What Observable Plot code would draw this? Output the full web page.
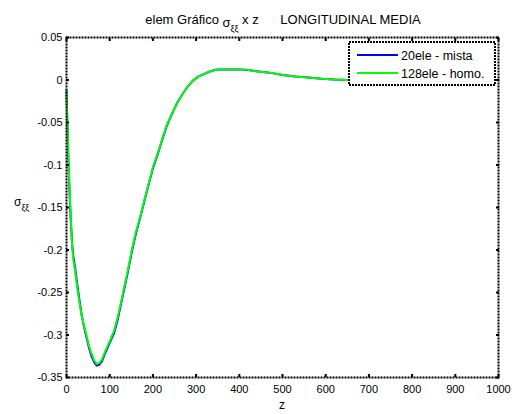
<!DOCTYPE html>
<html><head><meta charset="utf-8">
<script src="https://cdn.jsdelivr.net/npm/d3@7"></script>
<script src="https://cdn.jsdelivr.net/npm/@observablehq/plot@0.6"></script>
<style>
body{margin:0;background:#fff}
svg{font-family:"Liberation Sans",Arial,sans-serif}
</style>
</head><body><div id="chart"></div>
<script>
// z positions (shared sampling)
const zValues = [0,2,4,6,8,10,13,16,20,25,30,35,40,46,52,58,64,70,76,82,88,95,102,110,118,126,134,142,150,160,170,180,190,200,210,220,232,244,256,268,280,292,305,318,332,345,360,380,400,420,440,460,480,500,530,560,590,620,650,700,800,900,1000];
// 20ele - mista (blue)
const sigmaMista = [-0.012,-0.052,-0.088,-0.118,-0.143,-0.166,-0.193,-0.208,-0.221,-0.241,-0.259,-0.276,-0.289,-0.302,-0.315,-0.325,-0.332,-0.336,-0.335,-0.331,-0.323,-0.315,-0.307,-0.298,-0.283,-0.264,-0.245,-0.226,-0.205,-0.182,-0.163,-0.143,-0.123,-0.104,-0.089,-0.073,-0.054,-0.040,-0.027,-0.017,-0.008,-0.001,0.004,0.007,0.010,0.012,0.0125,0.0125,0.0125,0.0118,0.0102,0.0092,0.0078,0.006,0.004,0.0028,0.0015,0.0005,0,0,0,0,0];
// 128ele - homo. (green)
const sigmaHomo = [-0.012,-0.05,-0.085,-0.115,-0.14,-0.165,-0.195,-0.212,-0.225,-0.245,-0.262,-0.277,-0.288,-0.300,-0.313,-0.322,-0.330,-0.334,-0.333,-0.329,-0.321,-0.313,-0.305,-0.295,-0.280,-0.262,-0.243,-0.224,-0.203,-0.180,-0.162,-0.142,-0.122,-0.103,-0.088,-0.072,-0.053,-0.040,-0.027,-0.017,-0.008,-0.001,0.004,0.007,0.010,0.012,0.0125,0.0125,0.0125,0.012,0.010,0.009,0.008,0.006,0.004,0.003,0.0015,0.0005,0,0,0,0,0];

const xTicks = [0,100,200,300,400,500,600,700,800,900,1000];
const yTicks = [0.05,0,-0.05,-0.1,-0.15,-0.2,-0.25,-0.3,-0.35];
const seriesNames = ["20ele - mista","128ele - homo."];
const seriesColors = ["#0000ff","#00ff00"];

const mista = zValues.map((z,i)=>({z, s:sigmaMista[i]}));
const homo = zValues.map((z,i)=>({z, s:sigmaHomo[i]}));
const fmt = d => String(+(+d).toFixed(2));

const plot = Plot.plot({
  width:519, height:414,
  marginLeft:66, marginRight:21, marginTop:37, marginBottom:37,
  style:{fontFamily:'"Liberation Sans",Arial,sans-serif', fontSize:"11px", background:"white", color:"black"},
  x:{domain:[0,1000]},
  y:{domain:[-0.35,0.05]},
  marks:[
    Plot.line(mista,{x:"z",y:"s",stroke:seriesColors[0],strokeWidth:2}),
    Plot.line(homo,{x:"z",y:"s",stroke:seriesColors[1],strokeWidth:2}),
    Plot.axisX(xTicks,{anchor:"bottom",tickSize:0,tickPadding:8,tickFormat:fmt,label:null}),
    Plot.axisX(xTicks,{anchor:"bottom",tickSize:-3,strokeWidth:2,fill:"none"}),
    Plot.axisX(xTicks,{anchor:"top",tickSize:-3,strokeWidth:2,fill:"none"}),
    Plot.axisY(yTicks,{anchor:"left",tickSize:0,tickPadding:4,tickFormat:fmt,label:null}),
    Plot.axisY(yTicks,{anchor:"left",tickSize:-3,strokeWidth:2,fill:"none"}),
    Plot.axisY(yTicks,{anchor:"right",tickSize:-3,strokeWidth:2,fill:"none"}),
    Plot.frame({stroke:"black",strokeWidth:2,strokeDasharray:"2,1"})
  ]
});
document.getElementById("chart").appendChild(plot);

const svg = d3.select(plot);
const ff = '"Liberation Sans",Arial,sans-serif';
// Title
const t = svg.append("text").attr("x",283).attr("y",24).attr("text-anchor","middle")
  .attr("font-size",13).attr("font-family",ff).attr("fill","black");
t.append("tspan").text("elem Gráfico ");
t.append("tspan").attr("dy",3).text("σ");
t.append("tspan").attr("font-size",9).attr("dy",5).text("ξξ");
t.append("tspan").attr("dy",-8).text(" x z\u00a0\u00a0\u00a0\u00a0\u00a0\u00a0LONGITUDINAL MEDIA");
// X label
svg.append("text").attr("x",282).attr("y",409).attr("text-anchor","middle")
  .attr("font-size",12).attr("font-family",ff).text("z");
// Y label
const yl = svg.append("text").attr("x",14).attr("y",206).attr("text-anchor","start")
  .attr("font-size",12).attr("font-family",ff);
yl.append("tspan").text("σ");
yl.append("tspan").attr("font-size",9).attr("dy",5).text("ξξ");
// Legend
const lg = svg.append("g").attr("text-anchor","start");
lg.append("rect").attr("x",349).attr("y",42).attr("width",146).attr("height",43)
  .attr("fill","white").attr("stroke","black").attr("stroke-width",2).attr("stroke-dasharray","2,1");
seriesNames.forEach((n,i)=>{
  const y = 55 + i*18;
  lg.append("line").attr("x1",357).attr("x2",398).attr("y1",y).attr("y2",y)
    .attr("stroke",seriesColors[i]).attr("stroke-width",2);
  lg.append("text").attr("x",401).attr("y",y+4.5).attr("text-anchor","start")
    .attr("font-size",12.5).attr("font-family",ff).text(n);
});
</script>
</body></html>
